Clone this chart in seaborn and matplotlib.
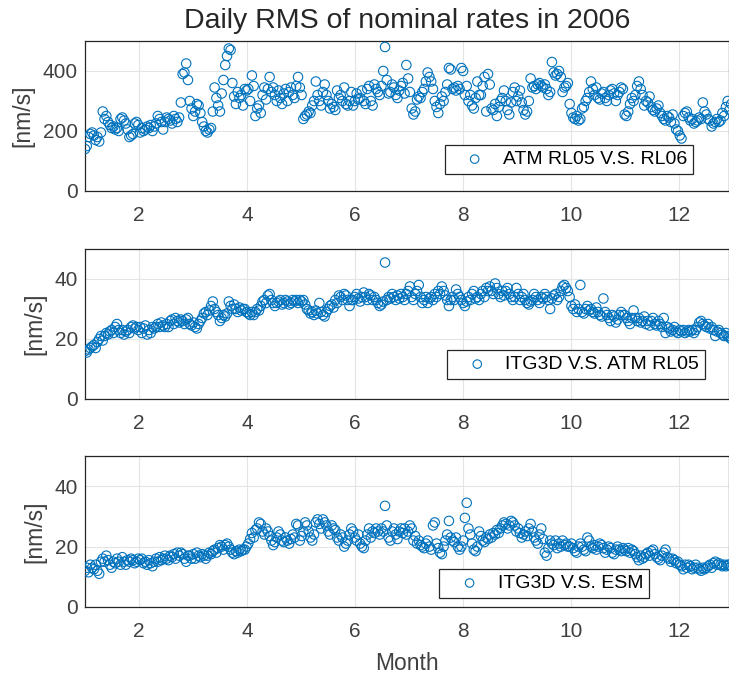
import numpy as np
import pandas as pd
import matplotlib
matplotlib.use("Agg")
import matplotlib.pyplot as plt
import seaborn as sns

# ---------------- data (daily values) ----------------
atm_rl05_vs_rl06 = [
    140, 150, 180, 190, 195, 185, 170, 180, 165, 195, 265, 240, 250, 230, 220, 210, 215, 205, 210, 200,
    240, 245, 235, 225, 205, 180, 185, 190, 225, 230, 220,
    195, 210, 200, 205, 215, 210, 220, 200, 215, 225, 250, 240, 230, 205, 230, 245, 240, 235, 225, 250,
    240, 230, 245, 295, 390, 395, 425, 370,
    300, 275, 250, 265, 290, 285, 260, 230, 215, 200, 195, 205, 210, 265, 345, 310, 285, 265, 325, 370,
    420, 450, 475, 470, 360, 315, 290, 330, 310, 320, 285,
    340, 335, 340, 300, 385, 350, 250, 275, 285, 260, 320, 345, 305, 340, 380, 330, 345, 320, 300, 335,
    310, 290, 325, 340, 300, 330, 345, 320, 310, 350,
    380, 345, 320, 240, 250, 255, 265, 260, 285, 300, 365, 320, 300, 285, 330, 355, 320, 300, 275, 290,
    280, 270, 335, 310, 320, 300, 345, 290, 285, 300, 330,
    285, 300, 325, 305, 310, 335, 300, 290, 340, 350, 300, 285, 355, 340, 330, 320, 350, 400, 480, 370,
    325, 330, 355, 345, 320, 310, 335, 350, 360, 325,
    420, 375, 330, 275, 255, 265, 305, 315, 310, 330, 340, 365, 395, 380, 365, 340, 300, 280, 260, 290,
    315, 300, 330, 355, 410, 405, 340, 345, 335, 350, 340,
    410, 400, 320, 350, 300, 320, 285, 275, 310, 365, 320, 320, 350, 380, 265, 390, 355, 275, 270, 290,
    250, 280, 300, 310, 335, 300, 270, 255, 295, 330, 345,
    300, 315, 335, 295, 270, 255, 265, 300, 375, 345, 350, 340, 355, 360, 350, 345, 355, 340, 320, 330,
    430, 395, 385, 390, 400, 380, 330, 345, 350, 360,
    290, 260, 245, 240, 250, 235, 240, 275, 280, 300, 310, 330, 365, 340, 320, 345, 310, 305, 325, 330,
    310, 300, 320, 335, 340, 325, 300, 320, 330, 345, 340,
    255, 250, 265, 290, 310, 300, 320, 350, 365, 340, 320, 285, 300, 295, 315, 280, 270, 265, 275, 285,
    260, 250, 240, 235, 250, 245, 230, 255, 225, 205,
    200, 185, 175, 250, 260, 265, 245, 235, 240, 225, 230, 235, 245, 240, 295, 265, 255, 240, 235, 215,
    225, 230, 240, 230, 235, 260, 250, 280, 300, 270, 290,
]

itg3d_vs_atm_rl05 = [
    16, 15.5, 16.5, 17, 17.5, 18, 17, 19, 20, 21, 19.5, 21, 22, 21.5, 22.5, 23, 22, 24, 25, 23,
    22, 23, 21.5, 22.5, 23, 22, 24, 24.5, 23.5, 24, 23,
    24, 22, 23.5, 24.5, 21.5, 23, 22, 24, 23.5, 24, 25, 24, 25.5, 24.5, 24, 25, 24, 26, 26.5, 25,
    27, 26, 25.5, 26.5, 26, 25, 26.5, 27,
    25, 24.5, 25.5, 24, 23.5, 25, 26, 27, 28.5, 29, 28, 29.5, 31, 32.5, 30, 29, 28, 26, 27, 28,
    27.5, 28.5, 32.5, 31, 30, 31.5, 30, 29, 30.5, 29.5, 30,
    30, 29, 28.5, 28, 29, 28, 29, 30, 29.5, 31, 32.5, 33, 32, 34.5, 35, 33, 32, 31, 32, 32.5,
    33, 31.5, 32, 33, 32.5, 31.5, 32, 33, 32.5, 33,
    32, 33, 32.5, 33, 31.5, 30, 29.5, 28.5, 29, 28, 29.5, 28.5, 32, 29, 28, 27.5, 29, 30, 31, 31.5,
    30.5, 33, 32, 34.5, 34, 33, 35, 34.5, 33, 31, 33,
    33, 34, 35, 33.5, 32.5, 34, 35.5, 34, 33, 35, 34.5, 33, 34, 33, 32, 31, 31.5, 32.5, 45.5, 33,
    34, 33.5, 35, 34, 33, 34.5, 33.5, 35, 34, 33,
    35, 36, 37.5, 34, 33, 35, 36, 38, 34, 32, 33, 34, 32, 33.5, 34, 33, 35, 34, 36, 35,
    37.5, 36, 34.5, 33, 31, 33, 34, 33, 36.5, 35, 34,
    33, 32, 31, 32.5, 34, 33, 35, 36, 33.5, 34, 33, 35, 36, 34, 37, 36, 37.5, 36, 35, 38.5,
    37, 35, 34, 36, 34.5, 36, 37, 35, 34, 33, 34,
    37, 35, 33, 34, 35, 33, 32, 31.5, 32.5, 33, 35, 34, 33, 32, 34, 33.5, 35, 34, 33, 30,
    33.5, 34.5, 35, 33, 34, 36, 37.5, 38, 37, 36,
    34, 31, 30, 31.5, 29, 30, 38, 29, 28.5, 30, 31, 29.5, 30, 29, 28.5, 30.5, 29, 28, 27.5, 33.5,
    29, 28, 27, 26, 28, 27.5, 25.5, 26.5, 28, 29, 28,
    28, 27, 26, 25, 27, 29.5, 27, 26, 27, 25.5, 26, 27.5, 25, 26, 24.5, 26, 27, 25, 24.5, 26,
    25, 24, 27, 22, 24, 23.5, 22.5, 23, 24, 22.5,
    22, 23, 22.5, 23, 22, 22.5, 23, 22.5, 23, 22, 23, 24, 25.5, 26, 25, 24.5, 24, 25, 23.5, 24,
    23, 21, 22.5, 23, 22, 21.5, 21, 22, 21, 20.5, 20,
]

itg3d_vs_esm = [
    12, 13, 11.5, 14, 13, 12.5, 14, 12, 11, 15, 16, 15, 17, 15.5, 14, 13, 15, 14.5, 16, 15,
    14, 16.5, 15, 14, 15.5, 15, 16, 15.5, 14.5, 15, 16,
    15.5, 16, 14.5, 15, 14, 15.5, 14.5, 13.5, 15, 16, 15, 16.5, 15.5, 16, 17, 16, 15.5, 17, 16.5, 17.5,
    16, 18, 17, 18, 17.5, 16, 15, 17,
    17, 16, 17.5, 16, 18, 17, 16.5, 17.5, 17, 16, 17, 18, 17.5, 18.5, 19, 18, 19.5, 20.5, 20, 19,
    20.5, 21, 20, 19, 18, 17.5, 18.5, 18, 19, 18.5, 19,
    19, 20, 21, 22.5, 24.5, 23, 25.5, 26, 28, 27.5, 25, 24, 26, 25, 23.5, 22, 20.5, 21.5, 23, 25,
    24, 22, 21.5, 23, 22, 21, 22.5, 24, 23, 27.5,
    27, 22, 23.5, 25, 28, 27, 25, 23, 22, 24, 28, 29, 27.5, 26, 29, 28, 27, 25, 24, 27,
    26, 25.5, 23, 22, 24, 23, 20, 21, 22, 24, 26,
    25, 23, 22, 24, 21, 20, 19.5, 22, 24, 26, 23, 25, 24.5, 26, 25, 24, 26, 25, 33.5, 27,
    23, 22, 25, 26, 24, 22.5, 25, 26, 24.5, 26,
    24, 25, 27, 26, 22, 23.5, 21, 22, 20.5, 20, 19.5, 21, 22, 20, 19, 27, 28, 21, 19.5, 18,
    17.5, 20, 22, 24, 28.5, 23, 22, 21.5, 23, 20, 19,
    20, 22, 29.5, 34.5, 26, 24, 21, 19, 18.5, 20, 25, 23.5, 22, 21.5, 23, 22.5, 24, 23, 24.5, 24,
    25.5, 24.5, 26, 27, 28, 27.5, 26, 27, 28.5, 28, 27,
    25, 26, 24.5, 23, 24, 25, 23.5, 26, 27.5, 25, 23, 22, 21, 24, 26, 22.5, 18, 17, 19.5, 22,
    21, 20.5, 22, 19.5, 21, 20, 22, 20.5, 21, 20,
    20, 21, 19.5, 18.5, 18, 20, 21, 20, 19, 18.5, 23, 22, 20, 19.5, 20.5, 19, 20, 21, 20.5, 19.5,
    18, 19, 20, 19.5, 18, 17.5, 19, 20, 19, 18.5, 19.5,
    19, 18.5, 19.5, 18, 19, 18.5, 17.5, 16.5, 15.5, 17, 16, 16.5, 17.5, 18, 17, 18.5, 19, 17.5, 16.5, 16,
    15.5, 17, 18, 19, 16.5, 16, 15, 16, 15.5, 14.5,
    15, 14, 13.5, 12.5, 14, 13, 14, 13.5, 12.5, 13, 14, 13, 12.5, 12, 13, 12.5, 13, 13.5, 14, 13,
    14.5, 15, 14, 14.5, 14, 13.5, 14, 13.5, 14, 14, 13.5,
]

series_labels = ["ATM RL05 V.S. RL06", "ITG3D V.S. ATM RL05", "ITG3D V.S. ESM"]
series_values = [atm_rl05_vs_rl06, itg3d_vs_atm_rl05, itg3d_vs_esm]
y_limits = [(0, 500), (0, 50), (0, 50)]
y_ticks = [[0, 200, 400], [0, 20, 40], [0, 20, 40]]
x_ticks = [2, 4, 6, 8, 10, 12]
title = "Daily RMS of nominal rates in 2006"
y_label = "[nm/s]"
x_label = "Month"

# ---------------- style ----------------
sns.set_theme(style="whitegrid")
plt.rcParams["font.family"] = ["Liberation Sans", "DejaVu Sans"]
text_color = "#404040"
axis_color = "#262626"
marker_color = "#0072BD"

W, H = 729, 677
fig = plt.figure(figsize=(W / 100, H / 100), dpi=100)

left_px, right_px = 85, 729
panels_px = [(41, 191), (249, 399), (456, 607)]
legend_anchor = [(0.944, 0.113), (0.963, 0.133), (0.876, 0.06)]
month_px = 54.0
x_max = 1 + (right_px - left_px) / month_px

for i, ((top, bot), label, vals) in enumerate(zip(panels_px, series_labels, series_values)):
    ax = fig.add_axes([left_px / W, 1 - bot / H, (right_px - left_px) / W, (bot - top) / H])
    n = len(vals)
    df = pd.DataFrame({"month": 1 + np.arange(n) * 12.0 / n, "rms": vals})
    sns.scatterplot(data=df, x="month", y="rms", ax=ax, marker="o",
                    facecolor="none", edgecolor=marker_color, linewidth=0.8,
                    s=46, label=label, zorder=3)
    ax.set_xlim(1, x_max)
    ax.set_ylim(*y_limits[i])
    ax.set_xticks(x_ticks)
    ax.set_yticks(y_ticks[i])
    ax.set_facecolor("white")
    ax.grid(True, color="#e4e4e4", linewidth=0.8)
    for sp in ax.spines.values():
        sp.set_visible(True)
        sp.set_color(axis_color)
        sp.set_linewidth(0.9)
    ax.tick_params(axis="x", pad=11)
    ax.tick_params(axis="y", pad=5)
    ax.tick_params(axis="both", direction="in", length=4, width=0.8, color=axis_color,
                   labelsize=15, labelcolor=text_color)
    ax.set_xlabel(x_label if i == 2 else "", fontsize=16.5, color=text_color, labelpad=8)
    ax.set_ylabel(y_label, fontsize=16.5, color=text_color, labelpad=6)
    leg = ax.legend(loc="lower right", bbox_to_anchor=legend_anchor[i], fontsize=14,
                    frameon=True, fancybox=False, framealpha=1, edgecolor=axis_color,
                    handlelength=2.5, handletextpad=0.2, borderpad=0.3, borderaxespad=0,
                    markerscale=0.9)
    leg.get_frame().set_linewidth(0.9)
    for t in leg.get_texts():
        t.set_color("black")
    if i == 0:
        ax.set_title(title, fontsize=20.5, color=axis_color, pad=9)

fig.savefig("out.png", dpi=100)
